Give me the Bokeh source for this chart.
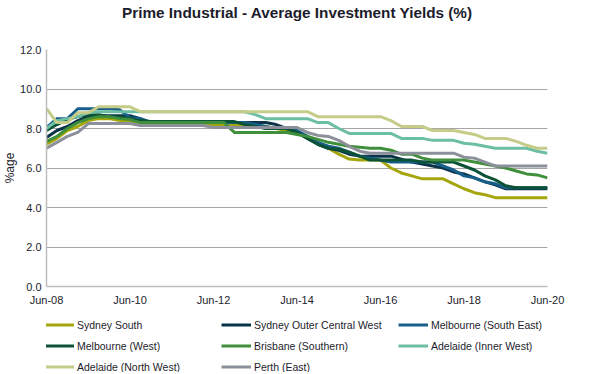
from bokeh.plotting import figure
from bokeh.layouts import column
from bokeh.models import Legend, LegendItem, FixedTicker, PrintfTickFormatter, Range1d, Label
from bokeh.embed import file_html
from bokeh.resources import INLINE

# ---- data (quarterly, Jun-08 .. Jun-20) ----
title_text = "Prime Industrial - Average Investment Yields (%)"
y_label = "%age"
tick_labels = ["Jun-08", "Jun-10", "Jun-12", "Jun-14", "Jun-16", "Jun-18", "Jun-20"]
series_names = ["Sydney South", "Sydney Outer Central West", "Melbourne (South East)",
                "Melbourne (West)", "Brisbane (Southern)", "Adelaide (Inner West)",
                "Adelaide (North West)", "Perth (East)"]
series_colors = ["#a4a60b", "#0b3349", "#175f8a", "#0b5236", "#3f8f3c", "#6dbfa3",
                 "#c5cc88", "#8c909a"]

sydney_south = [7.2, 7.5, 7.9, 8.1, 8.4, 8.5, 8.5, 8.4, 8.35, 8.3,
                8.2, 8.2, 8.2, 8.2, 8.2, 8.2, 8.2, 8.2, 8.2, 8.2, 8.2,
                8.1, 8.0, 7.9, 7.8, 7.6, 7.3, 7.0, 6.7, 6.45,
                6.4, 6.4, 6.4, 6.0, 5.75, 5.6, 5.45, 5.45, 5.45,
                5.2, 4.95, 4.75, 4.65, 4.5,
                4.5, 4.5, 4.5, 4.5, 4.5]
sydney_ocw = [7.55, 7.9, 8.1, 8.4, 8.6, 8.65, 8.65, 8.65, 8.65, 8.5,
              8.3, 8.3, 8.3, 8.3, 8.3, 8.3, 8.3, 8.3, 8.3, 8.3, 8.3, 8.3,
              8.2, 8.0, 7.8, 7.5, 7.2, 7.0, 6.9, 6.7, 6.6, 6.6, 6.6, 6.6,
              6.45, 6.3, 6.2, 6.1, 6.0, 5.8, 5.7, 5.5, 5.3, 5.15,
              4.95, 4.95, 4.95, 4.95, 4.95]
melb_se = [8.05, 8.5, 8.5, 9.0, 9.0, 9.0, 9.0, 8.95, 8.55, 8.5,
           8.3, 8.3, 8.3, 8.3, 8.3, 8.3, 8.3, 8.3, 8.3, 8.3,
           8.2, 8.1, 8.0, 8.0, 7.9, 7.6, 7.3, 7.1, 7.0, 6.8, 6.6, 6.5, 6.4,
           6.3, 6.3, 6.3, 6.3, 6.3,
           6.1, 5.9, 5.6, 5.5, 5.3, 5.2,
           5.0, 5.0, 5.0, 5.0, 5.0]
melb_west = [7.9, 8.2, 8.45, 8.6, 8.7, 8.7, 8.6, 8.6, 8.5, 8.4,
             8.35, 8.35, 8.35, 8.35, 8.35, 8.35, 8.35, 8.35, 8.35,
             8.2, 8.1, 8.0, 8.0, 8.0, 7.8, 7.5, 7.2, 7.0, 6.95, 6.8, 6.6,
             6.4, 6.4, 6.4, 6.4, 6.4, 6.3, 6.3, 6.3, 6.3,
             6.1, 5.9, 5.6, 5.4, 5.1,
             5.0, 5.0, 5.0, 5.0]
brisbane = [7.35, 7.6, 8.0, 8.3, 8.5, 8.6, 8.6, 8.5, 8.45, 8.3,
            8.3, 8.3, 8.3, 8.3, 8.3, 8.3, 8.3, 8.3,
            7.8, 7.8, 7.8, 7.8, 7.8, 7.8,
            7.7, 7.6, 7.45, 7.3, 7.2, 7.1, 7.05, 7.0, 7.0, 6.9, 6.7, 6.7,
            6.5, 6.4, 6.4, 6.4, 6.4, 6.3, 6.2, 6.1, 6.0, 5.85, 5.7, 5.65, 5.5]
adelaide_iw = [8.0, 8.4, 8.5, 8.6, 8.8,
               8.85, 8.85, 8.85, 8.85, 8.85, 8.85, 8.85, 8.85, 8.85, 8.85,
               8.85, 8.85, 8.85, 8.85, 8.85,
               8.7, 8.5, 8.5, 8.5, 8.5, 8.5, 8.3, 8.3, 8.0,
               7.75, 7.75, 7.75, 7.75, 7.75,
               7.5, 7.5, 7.5, 7.4, 7.4, 7.4, 7.25, 7.2, 7.1, 7.0, 7.0, 7.0, 7.0,
               6.85, 6.75]
adelaide_nw = [9.0, 8.3, 8.3, 8.8, 8.8, 9.1, 9.1, 9.1, 9.1,
               8.85, 8.85, 8.85, 8.85, 8.85, 8.85, 8.85, 8.85, 8.85, 8.85,
               8.85, 8.85, 8.85, 8.85, 8.85, 8.85, 8.85,
               8.6, 8.6, 8.6, 8.6, 8.6, 8.6, 8.6,
               8.4, 8.1, 8.1, 8.1, 7.9, 7.9, 7.9, 7.8, 7.7, 7.5, 7.5, 7.5,
               7.35, 7.15, 7.0, 7.0]
perth = [7.0, 7.3, 7.6, 7.8, 8.25, 8.25, 8.25, 8.25, 8.25,
         8.15, 8.15, 8.15, 8.15, 8.15, 8.15, 8.15,
         8.05, 8.05, 8.05, 8.05, 8.05, 8.05, 8.05, 8.05, 8.05,
         7.8, 7.65, 7.6, 7.4, 7.1, 6.85,
         6.75, 6.75, 6.75, 6.75, 6.75, 6.75, 6.75, 6.75, 6.75,
         6.55, 6.5, 6.3,
         6.1, 6.1, 6.1, 6.1, 6.1, 6.1]

all_series = [sydney_south, sydney_ocw, melb_se, melb_west, brisbane,
              adelaide_iw, adelaide_nw, perth]
quarters = list(range(len(sydney_south)))  # quarter index since Jun-08

FONT = "Liberation Sans"
TXT = "#1c1c2c"
W = 579


def blank_fig(h):
    f = figure(width=W, height=h, output_backend="svg", toolbar_location=None,
               x_range=Range1d(0, 1), y_range=Range1d(0, 1),
               x_axis_location=None, y_axis_location=None,
               min_border=0)
    f.outline_line_color = None
    f.grid.grid_line_color = None
    return f


# ---- title strip (frame is aligned with the main chart's frame) ----
t = blank_fig(28)
t.add_layout(Label(x=251, y=16, x_units="screen", y_units="screen",
                   text=title_text, text_align="center", text_baseline="middle",
                   text_font=FONT, text_font_size="15.3px", text_font_style="bold",
                   text_color=TXT))

# ---- main chart ----
p = figure(width=W, height=282, output_backend="svg", toolbar_location=None,
           x_range=Range1d(0, 48), y_range=Range1d(0, 12),
           min_border_left=40, min_border_right=32, min_border_top=21,
           min_border_bottom=24)
p.outline_line_color = None

p.xaxis.ticker = FixedTicker(ticks=[8 * k for k in range(len(tick_labels))])
p.xaxis.major_label_overrides = {8 * k: lab for k, lab in enumerate(tick_labels)}
p.yaxis.ticker = FixedTicker(ticks=[0, 2, 4, 6, 8, 10, 12])
p.yaxis.formatter = PrintfTickFormatter(format="%.1f")
for ax in (p.xaxis[0], p.yaxis[0]):
    ax.major_tick_line_color = None
    ax.minor_tick_line_color = None
    ax.major_tick_out = 0
    ax.major_tick_in = 0
    ax.major_label_text_font = FONT
    ax.major_label_text_font_size = "11px"
    ax.major_label_text_color = TXT
    ax.axis_line_color = "#bdbdbd"
    ax.axis_line_width = 1.5
p.xaxis.major_label_standoff = 7
p.yaxis.major_label_standoff = 5
p.yaxis.axis_label = y_label
p.yaxis.axis_label_text_font = FONT
p.yaxis.axis_label_text_font_size = "12px"
p.yaxis.axis_label_text_font_style = "normal"
p.yaxis.axis_label_text_color = TXT
p.yaxis.axis_label_standoff = 0

p.xgrid.grid_line_color = None
p.ygrid.grid_line_color = "#a6a6a6"
p.ygrid.grid_line_width = 1

for col, vals in zip(series_colors, all_series):
    p.line(quarters, vals, line_color=col, line_width=3)

# ---- legend strip: same series, drawn outside its (0..1) view ----
lg = blank_fig(62)
items = []
for name, col, vals in zip(series_names, series_colors, all_series):
    r = lg.line(quarters, vals, line_color=col, line_width=3)
    items.append(LegendItem(label=name, renderers=[r]))
legend = Legend(items=items, orientation="horizontal", ncols=3,
                location=(-2, -2), padding=0, margin=0, spacing=6,
                glyph_width=30, glyph_height=15, label_height=15,
                label_width=138, label_standoff=3,
                label_text_font=FONT, label_text_font_size="10.5px",
                label_text_color=TXT, border_line_color=None,
                background_fill_alpha=0)
lg.add_layout(legend, "center")

layout = column(t, p, lg, spacing=0)
open("out.html", "w").write(file_html(layout, INLINE))
